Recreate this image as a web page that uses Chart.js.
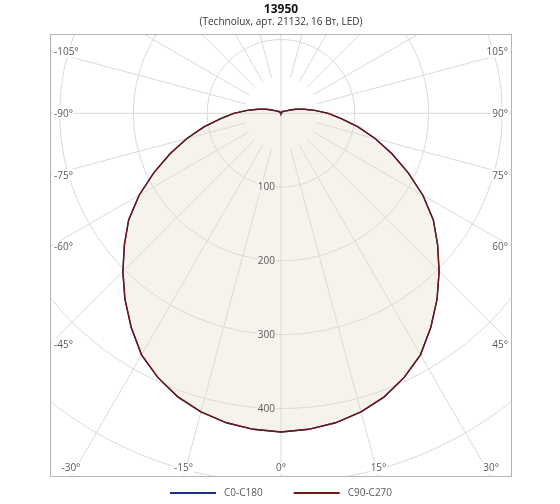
<!DOCTYPE html>
<html>
<head>
<meta charset="utf-8">
<title>13950</title>
<script src="https://cdn.jsdelivr.net/npm/chart.js@4.4.1/dist/chart.umd.min.js"></script>
<style>
  html, body { margin: 0; padding: 0; background: #fff; }
  #wrap { position: relative; width: 560px; height: 504px; }
</style>
</head>
<body>
<div id="wrap"><canvas id="polar"></canvas></div>
<script>
// Luminous intensity (cd/klm), gamma 0..180 every 5 deg
const gamma = [0, 5, 10, 15, 20, 25, 30, 35, 40, 45, 50, 55, 60, 65, 70, 75, 80, 85, 90,
  95, 100, 105, 110, 115, 120, 125, 130, 135, 140, 145, 150, 155, 160, 165, 170, 175, 180];
const cdC0 = [432, 430, 426, 419, 409, 395, 378, 354, 329, 303, 277, 252, 222, 190, 160, 132, 106, 82, 64,
  46, 32, 21, 13, 8, 6, 5, 4, 3, 3, 2, 2, 2, 1, 1, 1, 0, 0];
const cdC180 = [432, 430, 426, 419, 409, 395, 378, 354, 329, 303, 277, 252, 222, 190, 160, 132, 106, 82, 64,
  46, 32, 21, 13, 8, 6, 5, 4, 3, 3, 2, 2, 2, 1, 1, 1, 0, 0];
// rotationally symmetric luminaire: C90/C270 planes equal C0/C180
const cdC90 = cdC0;
const cdC270 = cdC180;

const seriesNames = ["C0-C180", "C90-C270"];
const seriesColors = ["#1f2d7c", "#701616"];

const ringValues = [100, 200, 300, 400, 500, 600, 700];
const ringLabels = [100, 200, 300, 400];
const spokeAngles = [-165, -150, -135, -120, -105, -90, -75, -60, -45, -30, -15, 0, 15, 30, 45, 60, 75, 90, 105, 120, 135, 150, 165, 180];
const edgeLabels = [-105, -90, -75, -60, -45, -30, -15, 0, 15, 30, 45, 60, 75, 90, 105];

const FONT = '"Open Sans", "DejaVu Sans", sans-serif';
const FILL = "#f6f3ec";
const GRID = "#dadada";
const TEXT = "#5a5a5a";

// one closed curve per C-plane pair: left half (negative angles) then right half
function planePoints(left, right) {
  const pts = [];
  for (let i = gamma.length - 1; i >= 0; i--) {
    const a = -gamma[i] * Math.PI / 180;
    pts.push({ x: left[i] * Math.sin(a), y: left[i] * Math.cos(a) });
  }
  for (let i = 1; i < gamma.length; i++) {
    const a = gamma[i] * Math.PI / 180;
    pts.push({ x: right[i] * Math.sin(a), y: right[i] * Math.cos(a) });
  }
  return pts;
}

function toPx(chart, r, deg) {
  const a = deg * Math.PI / 180;
  return [chart.scales.x.getPixelForValue(r * Math.sin(a)), chart.scales.y.getPixelForValue(r * Math.cos(a))];
}

const polarGrid = {
  id: "polarGrid",
  beforeDatasetsDraw(chart) {
    const { ctx, chartArea: area } = chart;
    const [cx, cy] = toPx(chart, 0, 0);
    ctx.save();
    ctx.beginPath();
    ctx.rect(area.left, area.top, area.width, area.height);
    ctx.clip();

    // fill under the C90-C270 curve
    const pts = chart.getDatasetMeta(1).data;
    ctx.beginPath();
    pts.forEach((p, i) => (i ? ctx.lineTo(p.x, p.y) : ctx.moveTo(p.x, p.y)));
    ctx.closePath();
    ctx.fillStyle = FILL;
    ctx.fill();

    // rings
    ctx.strokeStyle = GRID;
    ctx.lineWidth = 1;
    ringValues.forEach(v => {
      const r = chart.scales.x.getPixelForValue(v) - cx;
      ctx.beginPath();
      ctx.arc(cx, cy, r, 0, Math.PI * 2);
      ctx.stroke();
    });

    // spokes, the main axes run through the centre
    spokeAngles.forEach(a => {
      const start = a % 90 === 0 ? 0 : 50;
      const [x0, y0] = toPx(chart, start, a);
      const [x1, y1] = toPx(chart, 1200, a);
      ctx.beginPath();
      ctx.moveTo(x0, y0);
      ctx.lineTo(x1, y1);
      ctx.stroke();
    });

    // ring values along the 0 deg axis
    ctx.font = "10px " + FONT;
    ctx.textAlign = "right";
    ctx.textBaseline = "middle";
    ringLabels.forEach(v => {
      const y = chart.scales.y.getPixelForValue(v);
      const w = ctx.measureText(String(v)).width;
      ctx.fillStyle = FILL;
      ctx.fillRect(cx - 6 - w - 1, y - 6, w + 2, 12);
      ctx.fillStyle = TEXT;
      ctx.fillText(String(v), cx - 6, y + 0.5);
    });
    ctx.restore();
  },
  afterDatasetsDraw(chart) {
    const { ctx, chartArea: area } = chart;
    const [cx, cy] = toPx(chart, 0, 0);
    ctx.save();
    ctx.font = "10px " + FONT;
    ctx.textBaseline = "middle";
    edgeLabels.forEach(a => {
      const [ex, ey] = toPx(chart, 1000, a);
      const dx = ex - cx, dy = ey - cy;
      const tx = dx < 0 ? (area.left - cx) / dx : (dx > 0 ? (area.right - cx) / dx : Infinity);
      const ty = dy > 0 ? (area.bottom - cy) / dy : (dy < 0 ? (area.top - cy) / dy : Infinity);
      const txt = a + "°";
      const w = ctx.measureText(txt).width;
      let x, y;
      if (tx < ty) {
        y = cy + dy * tx;
        if (dx < 0) { ctx.textAlign = "left"; x = area.left + 4; }
        else { ctx.textAlign = "right"; x = area.right - 4; }
      } else {
        ctx.textAlign = "center";
        x = cx + dx * ty;
        y = area.bottom - 9;
      }
      const bx = ctx.textAlign === "left" ? x - 1 : ctx.textAlign === "right" ? x - w - 1 : x - w / 2 - 1;
      ctx.fillStyle = "#fff";
      ctx.fillRect(bx, y - 6, w + 2, 12);
      ctx.fillStyle = TEXT;
      ctx.fillText(txt, x, y + 0.5);
    });

    // frame
    ctx.strokeStyle = "#b4b4b4";
    ctx.lineWidth = 1;
    ctx.strokeRect(Math.round(area.left) + 0.5, Math.round(area.top) + 0.5,
      Math.round(area.width) - 1, Math.round(area.height) - 1);

    // legend with line samples
    const y = 493;
    const sample = 46, gap = 8, between = 31;
    const widths = seriesNames.map(n => ctx.measureText(n).width);
    const total = widths.reduce((s, w) => s + sample + gap + w, 0) + between;
    let x = (area.left + area.right) / 2 - total / 2;
    ctx.textAlign = "left";
    seriesNames.forEach((n, i) => {
      ctx.strokeStyle = seriesColors[i];
      ctx.lineWidth = 2;
      ctx.beginPath();
      ctx.moveTo(x, y);
      ctx.lineTo(x + sample, y);
      ctx.stroke();
      ctx.fillStyle = TEXT;
      ctx.fillText(n, x + sample + gap, y + 0.5);
      x += sample + gap + widths[i] + between;
    });
    ctx.restore();
  }
};

new Chart(document.getElementById("polar"), {
  type: "scatter",
  data: {
    datasets: [
      {
        label: seriesNames[0],
        data: planePoints(cdC180, cdC0),
        showLine: true,
        borderColor: seriesColors[0],
        borderWidth: 1.4,
        pointRadius: 0,
        fill: false,
        order: 1
      },
      {
        label: seriesNames[1],
        data: planePoints(cdC270, cdC90),
        showLine: true,
        borderColor: seriesColors[1],
        borderWidth: 1.4,
        pointRadius: 0,
        fill: false,
        order: 0
      }
    ]
  },
  options: {
    responsive: true,
    maintainAspectRatio: false,
    animation: false,
    layout: { padding: { left: 50, right: 48, top: 0, bottom: 27 } },
    scales: {
      x: { type: "linear", min: -313, max: 313, display: false },
      y: { type: "linear", min: -107, max: 493, reverse: true, display: false }
    },
    plugins: {
      legend: { display: false },
      tooltip: { enabled: false },
      title: {
        display: true,
        text: "13950",
        color: "#111",
        font: { family: FONT, size: 12, weight: "bold" },
        padding: { top: 2, bottom: 0 }
      },
      subtitle: {
        display: true,
        text: "(Technolux, арт. 21132, 16 Вт, LED)",
        color: "#333",
        font: { family: FONT, size: 10 },
        padding: { top: 0, bottom: 6 }
      }
    }
  },
  plugins: [polarGrid]
});
</script>
</body>
</html>
